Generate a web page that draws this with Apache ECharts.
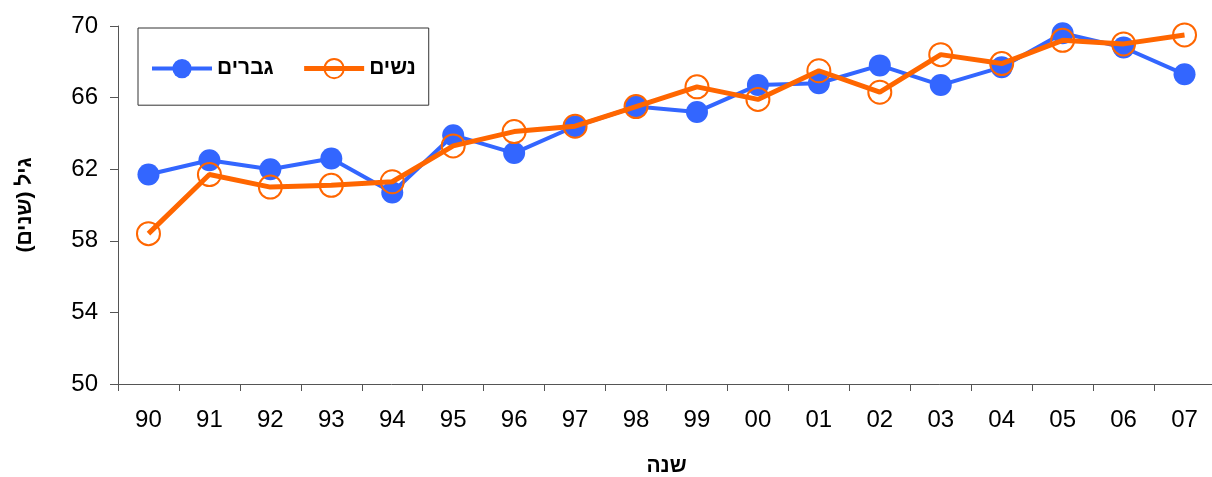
<!DOCTYPE html>
<html>
<head>
<meta charset="utf-8">
<script src="https://cdn.jsdelivr.net/npm/echarts@6/dist/echarts.min.js"></script>
<style>
html,body{margin:0;padding:0;background:#fff;}
#c{width:1212px;height:477px;}
</style>
</head>
<body>
<div id="c"></div>
<script>
const years = ['90','91','92','93','94','95','96','97','98','99','00','01','02','03','04','05','06','07'];
const men   = [61.7,62.5,62.0,62.6,60.7,63.9,62.9,64.4,65.5,65.2,66.7,66.8,67.8,66.7,67.7,69.6,68.8,67.3];
const women = [58.4,61.7,61.0,61.1,61.3,63.3,64.1,64.4,65.5,66.6,65.9,67.5,66.3,68.4,67.9,69.2,69.0,69.5];
const menName = 'גברים';
const womenName = 'נשים';
const xTitle = 'שנה';
const yTitle = '\u200Fגיל (שנים)\u200F';

const font = "'Liberation Sans', Arial, sans-serif";
const chart = echarts.init(document.getElementById('c'), null, {renderer:'canvas'});
chart.setOption({
  animation:false,
  backgroundColor:'#fff',
  textStyle:{fontFamily:font},
  grid:{left:118, right:-3, top:26, bottom:93, containLabel:false, outerBoundsMode:'none'},
  legend:{
    left:138, top:28,
    padding:[30,13,26,12],
    borderColor:'#333', borderWidth:1,
    itemWidth:60, itemHeight:24, itemGap:28,
    textStyle:{fontFamily:font, fontSize:21, fontWeight:'bold', color:'#000'},
    data:[
      {name:menName, lineStyle:{width:4}},
      {name:womenName, lineStyle:{width:5}}
    ]
  },
  xAxis:{
    type:'category', data:years, boundaryGap:true,
    axisLine:{lineStyle:{color:'#555', width:1}},
    axisTick:{show:true, alignWithLabel:false, length:7, lineStyle:{color:'#555'}},
    axisLabel:{fontSize:24, color:'#000', margin:24, fontFamily:font},
    name:xTitle, nameLocation:'middle', nameGap:72,
    nameTextStyle:{fontSize:21, fontWeight:'bold', color:'#000', fontFamily:font},
    splitLine:{show:false}
  },
  yAxis:{
    type:'value', min:50, max:70, interval:4,
    axisLine:{show:true, lineStyle:{color:'#555', width:1}},
    axisTick:{show:true, length:8, lineStyle:{color:'#555'}},
    axisLabel:{fontSize:24, color:'#000', margin:20, fontFamily:font},
    splitLine:{show:false},
    name:yTitle, nameLocation:'middle', nameRotate:90, nameGap:82,
    nameTextStyle:{fontSize:21, fontWeight:'bold', color:'#000', fontFamily:font}
  },
  series:[
    {
      name:menName, type:'line', data:men,
      symbol:'circle', symbolSize:22,
      lineStyle:{color:'#3366FF', width:4},
      itemStyle:{color:'#3366FF'},
      z:2
    },
    {
      name:womenName, type:'line', data:women,
      symbol:'circle', symbolSize:23,
      lineStyle:{color:'#FF6600', width:5},
      itemStyle:{color:'rgba(255,255,255,0)', borderColor:'#FF6600', borderWidth:2},
      z:3
    }
  ]
});
</script>
</body>
</html>
